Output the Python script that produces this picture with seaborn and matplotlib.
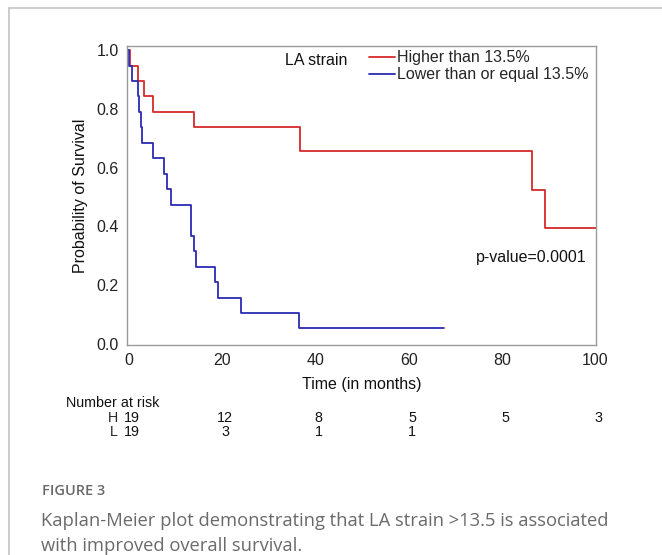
import numpy as np
import pandas as pd
import matplotlib.pyplot as plt
import matplotlib.transforms as mtransforms
from matplotlib.lines import Line2D
import seaborn as sns

# ------------------------
# Data
# ------------------------
high_time = [0, 0.3, 2.0, 3.3, 5.2, 14.0, 36.8, 86.5, 89.2, 100]
high_surv = [1.0, 0.947, 0.895, 0.842, 0.789, 0.737, 0.655, 0.524, 0.393, 0.393]

low_time = [0, 0.2, 0.85, 2.0, 2.3, 2.6, 2.85, 5.2, 7.7, 8.3, 9.2, 13.4, 14.0,
            14.5, 18.6, 19.1, 24.1, 36.6, 67.5]
low_surv = [1.0, 0.947, 0.895, 0.842, 0.789, 0.737, 0.684, 0.632, 0.579, 0.526,
            0.474, 0.368, 0.316, 0.263, 0.211, 0.158, 0.105, 0.053, 0.053]

groups = ["Higher than 13.5%", "Lower than or equal 13.5%"]
risk_times = [0, 20, 40, 60, 80, 100]
risk_high = [19, 12, 8, 5, 5, 3]
risk_low = [19, 3, 1, 1]

df = pd.concat([
    pd.DataFrame({"time": high_time, "surv": high_surv, "group": groups[0]}),
    pd.DataFrame({"time": low_time, "surv": low_surv, "group": groups[1]}),
])

# ------------------------
# Plot
# ------------------------
sns.set_style("white")
plt.rcParams["font.family"] = ["Liberation Sans", "DejaVu Sans"]

fig = plt.figure(figsize=(6.62, 5.55), dpi=100)
ax = fig.add_axes([0.1918, 0.3784, 0.7085, 0.5387])

palette = {groups[0]: "#d42a2a", groups[1]: "#2b2bb5"}
sns.lineplot(data=df, x="time", y="surv", hue="group", palette=palette,
             drawstyle="steps-post", estimator=None, sort=False,
             linewidth=1.3, ax=ax)

ax.set_xlim(-0.3, 100.1)
ax.set_ylim(-0.0034, 1.0136)
ax.set_xticks([0, 20, 40, 60, 80, 100])
ax.set_yticks([0.0, 0.2, 0.4, 0.6, 0.8, 1.0])
ax.set_yticklabels(["0.0", "0.2", "0.4", "0.6", "0.8", "1.0"])
ax.tick_params(axis="both", direction="out", length=4, width=0.9,
               color="#9a9a9a", labelsize=11.5, labelcolor="#222222", pad=2)
for sp in ax.spines.values():
    sp.set_color("#9a9a9a")
    sp.set_linewidth(1.0)
ax.set_xlabel("Time (in months)", fontsize=11.5, color="#111111", labelpad=6)
ax.set_ylabel("Probability of Survival", fontsize=11.5, color="#111111", labelpad=6)

sns.move_legend(ax, "upper left", bbox_to_anchor=(0.516, 0.985), title=None,
                frameon=False, fontsize=11.5, borderpad=0, borderaxespad=0,
                handlelength=1.65, handletextpad=0.1, labelspacing=0.1)
ax.text(0.337, 0.953, "LA strain", transform=ax.transAxes, fontsize=11.5,
        va="center", ha="left", color="#111111")
ax.text(0.98, 0.291, "p-value=0.0001", transform=ax.transAxes, fontsize=11.5,
        va="center", ha="right", color="#111111")

# number at risk table
rfs = 10.3
blend = mtransforms.blended_transform_factory(ax.transData, fig.transFigure)
fig.text(0.0997, 1 - 403 / 555, "Number at risk", fontsize=rfs,
         va="center", ha="left", color="#111111")
fig.text(0.1785, 1 - 418 / 555, "H", fontsize=rfs, va="center", ha="right")
fig.text(0.1785, 1 - 432 / 555, "L", fontsize=rfs, va="center", ha="right")
for t, n in zip(risk_times, risk_high):
    ax.text(t + 0.7, 1 - 418 / 555, str(n), transform=blend,
            fontsize=rfs, va="center", ha="center", color="#111111")
for t, n in zip(risk_times, risk_low):
    ax.text(t + 0.7, 1 - 432 / 555, str(n), transform=blend,
            fontsize=rfs, va="center", ha="center", color="#111111")

# caption and outer frame
cap_font = ["Open Sans", "DejaVu Sans"]
fig.text(0.0634, 1 - 491 / 555, "FIGURE 3", family=cap_font,
         fontsize=10.5, weight="semibold", color="#6a6a6a", va="center", ha="left")
fig.text(0.062, 1 - 521 / 555,
         "Kaplan-Meier plot demonstrating that LA strain >13.5 is associated",
         family=cap_font, fontsize=13.25, color="#6a6a6a", va="center", ha="left")
fig.text(0.062, 1 - 546 / 555, "with improved overall survival.",
         family=cap_font, fontsize=13.25, color="#6a6a6a", va="center", ha="left")
fig.add_artist(Line2D([9 / 662, 9 / 662], [0, 1 - 8 / 555], color="#c4c4c4",
                      linewidth=1.2, transform=fig.transFigure))
fig.add_artist(Line2D([9 / 662, 1], [1 - 8 / 555, 1 - 8 / 555], color="#c4c4c4",
                      linewidth=1.2, transform=fig.transFigure))

fig.savefig("out.png", dpi=100)
